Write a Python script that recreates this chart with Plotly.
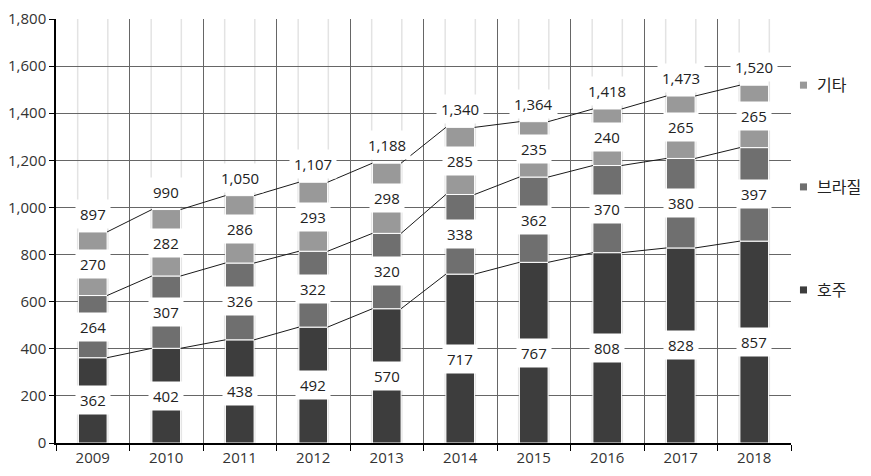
import plotly.graph_objects as go

years = ["2009", "2010", "2011", "2012", "2013", "2014", "2015", "2016", "2017", "2018"]
australia = [362, 402, 438, 492, 570, 717, 767, 808, 828, 857]
brazil = [264, 307, 326, 322, 320, 338, 362, 370, 380, 397]
others = [270, 282, 286, 293, 298, 285, 235, 240, 265, 265]
totals = [897, 990, 1050, 1107, 1188, 1340, 1364, 1418, 1473, 1520]

series_names = ["호주", "브라질", "기타"]
series_vals = [australia, brazil, others]
colors = ["#3d3d3d", "#6f6f6f", "#999999"]
legend_y = [0.361, 0.604, 0.844]  # paper positions of legend entries

FONT = "Open Sans, Noto Sans CJK KR, sans-serif"
BW = 0.39
xs = list(range(len(years)))

fig = go.Figure()

# light vertical lines at bar edges (decoration)
for i in xs:
    for dx in (-BW / 2 - 0.01, BW / 2 + 0.01):
        fig.add_shape(type="line", xref="x", yref="paper", x0=i + dx, x1=i + dx, y0=0, y1=1,
                      line=dict(color="#e3e3e3", width=1.5), layer="below")

bases = [0] * len(years)
for name, vals, col in zip(series_names, series_vals, colors):
    fig.add_trace(go.Bar(x=xs, y=vals, base=bases[:], width=BW, name=name,
                         marker=dict(color=col, line=dict(color="white", width=1)),
                         showlegend=False, hoverinfo="skip"))
    bases = [b + v for b, v in zip(bases, vals)]

# connecting series lines
cum = [0] * len(years)
for vals in series_vals:
    cum = [c + v for c, v in zip(cum, vals)]
    lx, ly = [], []
    for i in range(len(years) - 1):
        lx += [i + BW / 2, i + 1 - BW / 2, None]
        ly += [cum[i], cum[i + 1], None]
    fig.add_trace(go.Scatter(x=lx, y=ly, mode="lines", line=dict(color="#1a1a1a", width=1),
                             showlegend=False, hoverinfo="skip"))

# segment labels
bases = [0] * len(years)
for vals in series_vals:
    for i, v in enumerate(vals):
        fig.add_annotation(x=i, y=bases[i] + v / 2, text=f"{v:,}", showarrow=False,
                           bgcolor="white", borderpad=4, font=dict(size=15, color="#222", family=FONT))
    bases = [b + v for b, v in zip(bases, vals)]

# totals
for i, t in enumerate(totals):
    fig.add_annotation(x=i, y=bases[i], text=f"{t:,}", showarrow=False, yanchor="bottom", yshift=3,
                       bgcolor="white", borderpad=4, font=dict(size=15, color="#222", family=FONT))

# manual legend
for name, col, ly in zip(series_names, colors, legend_y):
    fig.add_shape(type="rect", xref="paper", yref="paper", x0=1.0122, x1=1.0218,
                  y0=ly - 0.0083, y1=ly + 0.0083, fillcolor=col, line=dict(width=0))
    fig.add_annotation(xref="paper", yref="paper", x=1.0327, y=ly, xanchor="left", yanchor="middle",
                       text=name, showarrow=False, font=dict(size=16, color="#222", family=FONT))

fig.update_layout(
    width=871, height=476,
    margin=dict(l=56, r=80, t=19, b=33, autoexpand=False),
    paper_bgcolor="white", plot_bgcolor="white",
    barmode="overlay", showlegend=False,
    font=dict(family=FONT, size=15, color="#333"),
)
fig.update_xaxes(range=[-0.5, 9.5], tickvals=xs, ticktext=years, ticks="", showgrid=False,
                 showline=True, linecolor="black", linewidth=1.5, zeroline=False,
                 tickfont=dict(size=15, color="#333"),
                 minor=dict(tickvals=[i - 0.5 for i in range(len(years) + 1)], ticks="outside",
                            ticklen=6, tickcolor="black", showgrid=True, gridcolor="#666", gridwidth=1))
fig.update_yaxes(range=[0, 1800], dtick=200, tickformat=",d", showgrid=True, gridcolor="#666",
                 gridwidth=1, showline=True, linecolor="black", linewidth=1.5, zeroline=False,
                 ticks="outside", ticklen=5, tickcolor="black", tickfont=dict(size=15, color="#333"))

fig.write_html("out.html")
